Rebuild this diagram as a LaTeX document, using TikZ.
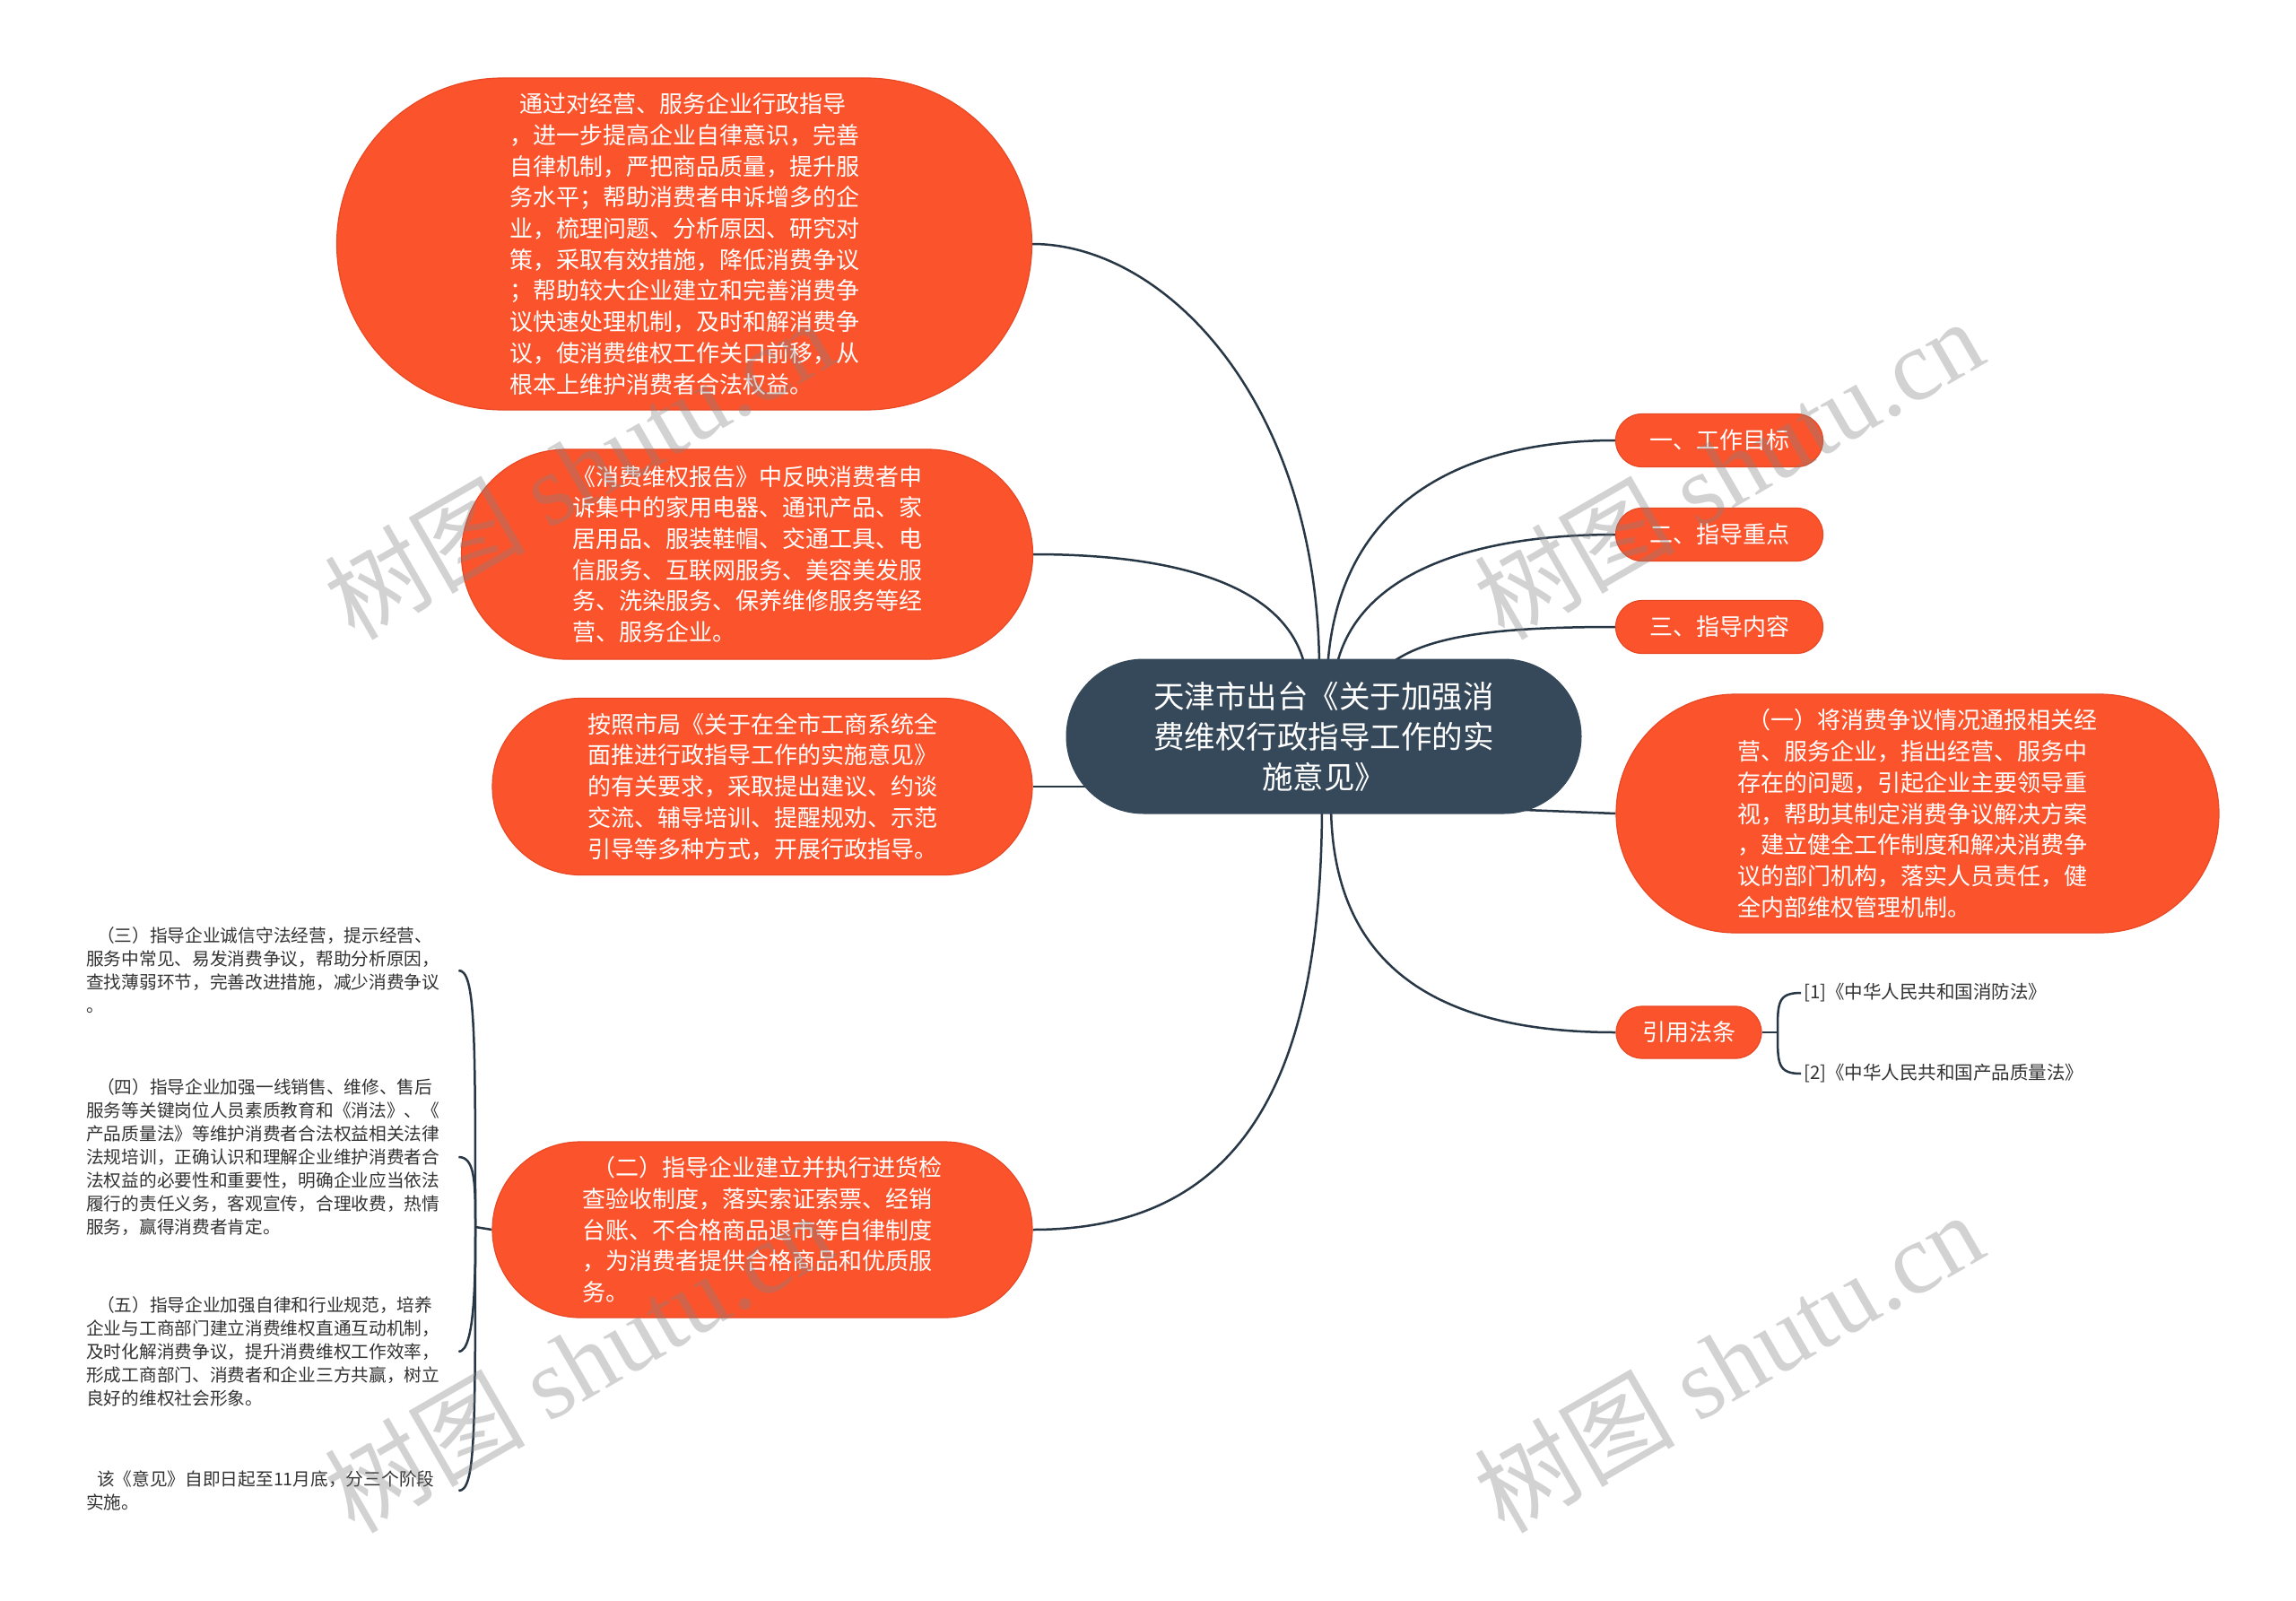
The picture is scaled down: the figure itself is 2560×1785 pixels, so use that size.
\documentclass[tikz,border=0pt]{standalone}
\usepackage{fontspec}
\setmainfont{Noto Sans CJK SC}
\newfontfamily\wmlatin{Liberation Serif}
\definecolor{orn}{RGB}{251,84,44}
\definecolor{ornline}{RGB}{232,72,36}
\definecolor{navy}{RGB}{54,73,90}
\definecolor{lnk}{RGB}{40,55,70}
\definecolor{txt}{RGB}{51,51,51}
\pgfdeclarelayer{bg}
\pgfdeclarelayer{paper}
\pgfsetlayers{paper,bg,main}
\begin{document}
\begin{tikzpicture}[x=1pt,y=-1pt,
  bub/.style={rectangle, fill=orn, draw=ornline, line width=1.2pt, text=white, inner sep=0pt, align=left, font=\fontsize{26}{34.7}\selectfont},
  pill/.style={rectangle, fill=orn, draw=ornline, line width=1.2pt, text=white, inner sep=0pt, align=center, minimum height=59pt, rounded corners=29.5pt, font=\fontsize{26}{30}\selectfont},
  rootbox/.style={rectangle, fill=navy, text=white, inner sep=0pt, align=center, minimum width=575pt, minimum height=173pt, rounded corners=86.5pt, font=\fontsize{34.5}{45}\selectfont},
  leaf/.style={anchor=west, text=txt, inner sep=3pt, align=left, text width=412pt, font=\fontsize{19.7}{26}\selectfont},
  reftext/.style={anchor=west, text=txt, inner sep=3pt, align=left, font=\fontsize{20.5}{24}\selectfont},
  conn/.style={draw=lnk, line width=2.5pt},
  wm/.style={rotate=30, text=gray, opacity=0.35, inner sep=0pt, font=\fontsize{112}{112}\selectfont}
]
\begin{pgfonlayer}{paper}
\fill[white] (0,0) rectangle (2560,1785);
\end{pgfonlayer}
\useasboundingbox (0,0) rectangle (2560,1785);

% root
\node[rootbox] (root) at (1476,821) {天津市出台《关于加强消\\费维权行政指导工作的实\\施意见》};

% left big bubbles
\node[bub, minimum width=775pt, minimum height=370pt, rounded corners=185pt] (A) at (763,272) {\hspace*{0.45em}通过对经营、服务企业行政指导\\，进一步提高企业自律意识，完善\\自律机制，严把商品质量，提升服\\务水平；帮助消费者申诉增多的企\\业，梳理问题、分析原因、研究对\\策，采取有效措施，降低消费争议\\；帮助较大企业建立和完善消费争\\议快速处理机制，及时和解消费争\\议，使消费维权工作关口前移，从\\根本上维护消费者合法权益。};

\node[bub, minimum width=637pt, minimum height=234pt, rounded corners=117pt] (B) at (833,618) {《消费维权报告》中反映消费者申\\诉集中的家用电器、通讯产品、家\\居用品、服装鞋帽、交通工具、电\\信服务、互联网服务、美容美发服\\务、洗染服务、保养维修服务等经\\营、服务企业。};

\node[bub, minimum width=602pt, minimum height=197pt, rounded corners=98.5pt] (C) at (850,877) {按照市局《关于在全市工商系统全\\面推进行政指导工作的实施意见》\\的有关要求，采取提出建议、约谈\\交流、辅导培训、提醒规劝、示范\\引导等多种方式，开展行政指导。};

\node[bub, minimum width=602pt, minimum height=196pt, rounded corners=98pt] (D) at (850,1371) {\hspace*{0.45em}（二）指导企业建立并执行进货检\\查验收制度，落实索证索票、经销\\台账、不合格商品退市等自律制度\\，为消费者提供合格商品和优质服\\务。};

% right nodes
\node[pill, minimum width=231pt] (s1) at (1917,491) {一、工作目标};
\node[pill, minimum width=231pt] (s2) at (1917,596) {二、指导重点};
\node[pill, minimum width=231pt] (s3) at (1917,699) {三、指导内容};

\node[bub, minimum width=672pt, minimum height=266pt, rounded corners=133pt] (R) at (2138,907) {\hspace*{0.45em}（一）将消费争议情况通报相关经\\营、服务企业，指出经营、服务中\\存在的问题，引起企业主要领导重\\视，帮助其制定消费争议解决方案\\，建立健全工作制度和解决消费争\\议的部门机构，落实人员责任，健\\全内部维权管理机制。};

\node[pill, minimum width=162pt, minimum height=58pt, rounded corners=29pt] (L) at (1883,1151) {引用法条};

\node[reftext] (r1) at (2008,1107) {[1]《中华人民共和国消防法》};
\node[reftext] (r2) at (2008,1197) {[2]《中华人民共和国产品质量法》};

% left leaf texts
\node[leaf] (t3) at (93,1082) {\hspace*{0.6em}（三）指导企业诚信守法经营，提示经营、\\服务中常见、易发消费争议，帮助分析原因，\\查找薄弱环节，完善改进措施，减少消费争议\\。};
\node[leaf] (t4) at (93,1290) {\hspace*{0.6em}（四）指导企业加强一线销售、维修、售后\\服务等关键岗位人员素质教育和《消法》、《\\产品质量法》等维护消费者合法权益相关法律\\法规培训，正确认识和理解企业维护消费者合\\法权益的必要性和重要性，明确企业应当依法\\履行的责任义务，客观宣传，合理收费，热情\\服务，赢得消费者肯定。};
\node[leaf] (t5) at (93,1507) {\hspace*{0.6em}（五）指导企业加强自律和行业规范，培养\\企业与工商部门建立消费维权直通互动机制，\\及时化解消费争议，提升消费维权工作效率，\\形成工商部门、消费者和企业三方共赢，树立\\良好的维权社会形象。};
\node[leaf] (t6) at (93,1662) {\hspace*{0.6em}该《意见》自即日起至11月底，分三个阶段\\实施。};

% attachment coordinates on the root
\coordinate (cA) at (1471,748);
\coordinate (cB) at (1456,748);
\coordinate (c1) at (1480,748);
\coordinate (c2) at (1489,748);
\coordinate (c3) at (1541,748);
\coordinate (cC) at (1230,877);
\coordinate (cR) at (1700,903);
\coordinate (cD) at (1474,895);
\coordinate (cL) at (1484,895);
\coordinate (J) at (530,1368);
\coordinate (RJ) at (1982,1151);

\begin{pgfonlayer}{bg}
\draw[conn] (A.east) .. controls (1300,272) and (1471,450) .. (cA);
\draw[conn] (B.east) .. controls (1330,618) and (1440,660) .. (cB);
\draw[conn] (C.east) -- (cC);
\draw[conn] (s1.west) .. controls (1630,491) and (1490,560) .. (c1);
\draw[conn] (s2.west) .. controls (1640,596) and (1510,640) .. (c2);
\draw[conn] (s3.west) .. controls (1660,699) and (1580,710) .. (c3);
\draw[conn] (cR) -- (R.west);
\draw[conn] (cL) .. controls (1484,1060) and (1580,1151) .. (L.west);
\draw[conn] (cD) .. controls (1474,1180) and (1400,1371) .. (D.east);
\draw[conn] (D.west) -- (J);
\draw[conn] (J) .. controls (530,1150) and (530,1082) .. (t3.east);
\draw[conn] (J) .. controls (530,1320) and (530,1290) .. (t4.east);
\draw[conn] (J) .. controls (530,1420) and (530,1507) .. (t5.east);
\draw[conn] (J) .. controls (530,1600) and (530,1662) .. (t6.east);
\draw[conn] (L.east) -- (RJ);
\draw[conn] (RJ) .. controls (1982,1118) and (1982,1107) .. (r1.west);
\draw[conn] (RJ) .. controls (1982,1186) and (1982,1197) .. (r2.west);
\end{pgfonlayer}

% watermarks
\node[wm] (w1) at (645,522) {树图 {\wmlatin shutu.cn}};
\node[wm] (w2) at (1927,522) {树图 {\wmlatin shutu.cn}};
\node[wm] (w3) at (645,1518) {树图 {\wmlatin shutu.cn}};
\node[wm] (w4) at (1927,1518) {树图 {\wmlatin shutu.cn}};
\end{tikzpicture}
\end{document}
